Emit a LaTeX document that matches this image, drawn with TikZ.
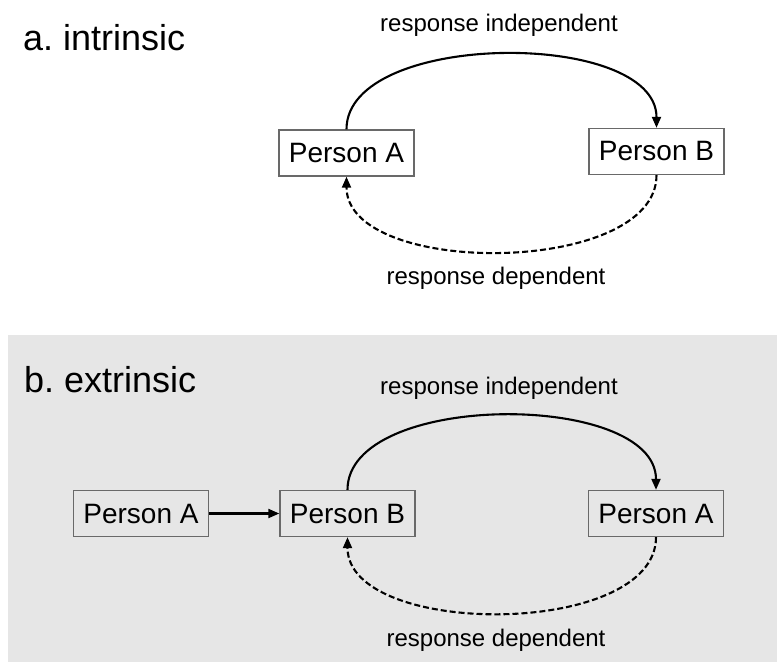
\documentclass[tikz,border=0pt]{standalone}
\usepackage{fontspec}
\setmainfont{Liberation Sans}
\usetikzlibrary{arrows.meta,calc}
\definecolor{bgray}{RGB}{230,230,230}
\definecolor{boxline}{RGB}{105,105,105}
\frenchspacing
\begin{document}
\begin{tikzpicture}[x=1pt,y=1pt,
  person/.style={draw=boxline,line width=1.4pt,minimum width=135pt,minimum height=46pt,inner sep=0pt,font=\fontsize{28}{30}\selectfont},
  title/.style={anchor=base west,inner sep=0pt,font=\fontsize{36}{38}\selectfont},
  lbl/.style={inner sep=0pt,font=\fontsize{24}{26}\selectfont},
  link/.style={line width=2.1pt,-{Triangle[length=11pt,width=9pt]}},
  dlink/.style={link,dashed,dash pattern=on 6pt off 3pt}]
\useasboundingbox (0,0) rectangle (777,-662);
\fill[bgray] (8,-335) rectangle (777,-662);

% panel a
\node[title] (ta) at (23,-50) {a. intrinsic};
\node[person] (a1) at (346.5,-153) {Person A};
\node[person] (a2) at (656.5,-151.5) {Person B};
\node[lbl] (ai) at (499,-25) {response independent};
\node[lbl] (ad) at (496,-278) {response dependent};
\draw[link] (a1.north) .. controls ($(a1.north)+(0,99)$) and ($(a2.north)+(0,99)$) .. (a2.north);
\draw[dlink] (a2.south) .. controls ($(a2.south)+(0,-101)$) and ($(a1.south)+(0,-101)$) .. (a1.south);

% panel b
\node[title] (tb) at (24,-392) {b. extrinsic};
\node[person] (b0) at (141,-513.5) {Person A};
\node[person] (b1) at (347.5,-513.5) {Person B};
\node[person] (b2) at (656,-513.5) {Person A};
\node[lbl] (bi) at (499,-388) {response independent};
\node[lbl] (bd) at (496,-640) {response dependent};
\draw[link] (b0.east) -- (b1.west);
\draw[link] (b1.north) .. controls ($(b1.north)+(0,99)$) and ($(b2.north)+(0,99)$) .. (b2.north);
\draw[dlink] (b2.south) .. controls ($(b2.south)+(0,-101)$) and ($(b1.south)+(0,-101)$) .. (b1.south);
\end{tikzpicture}
\end{document}
